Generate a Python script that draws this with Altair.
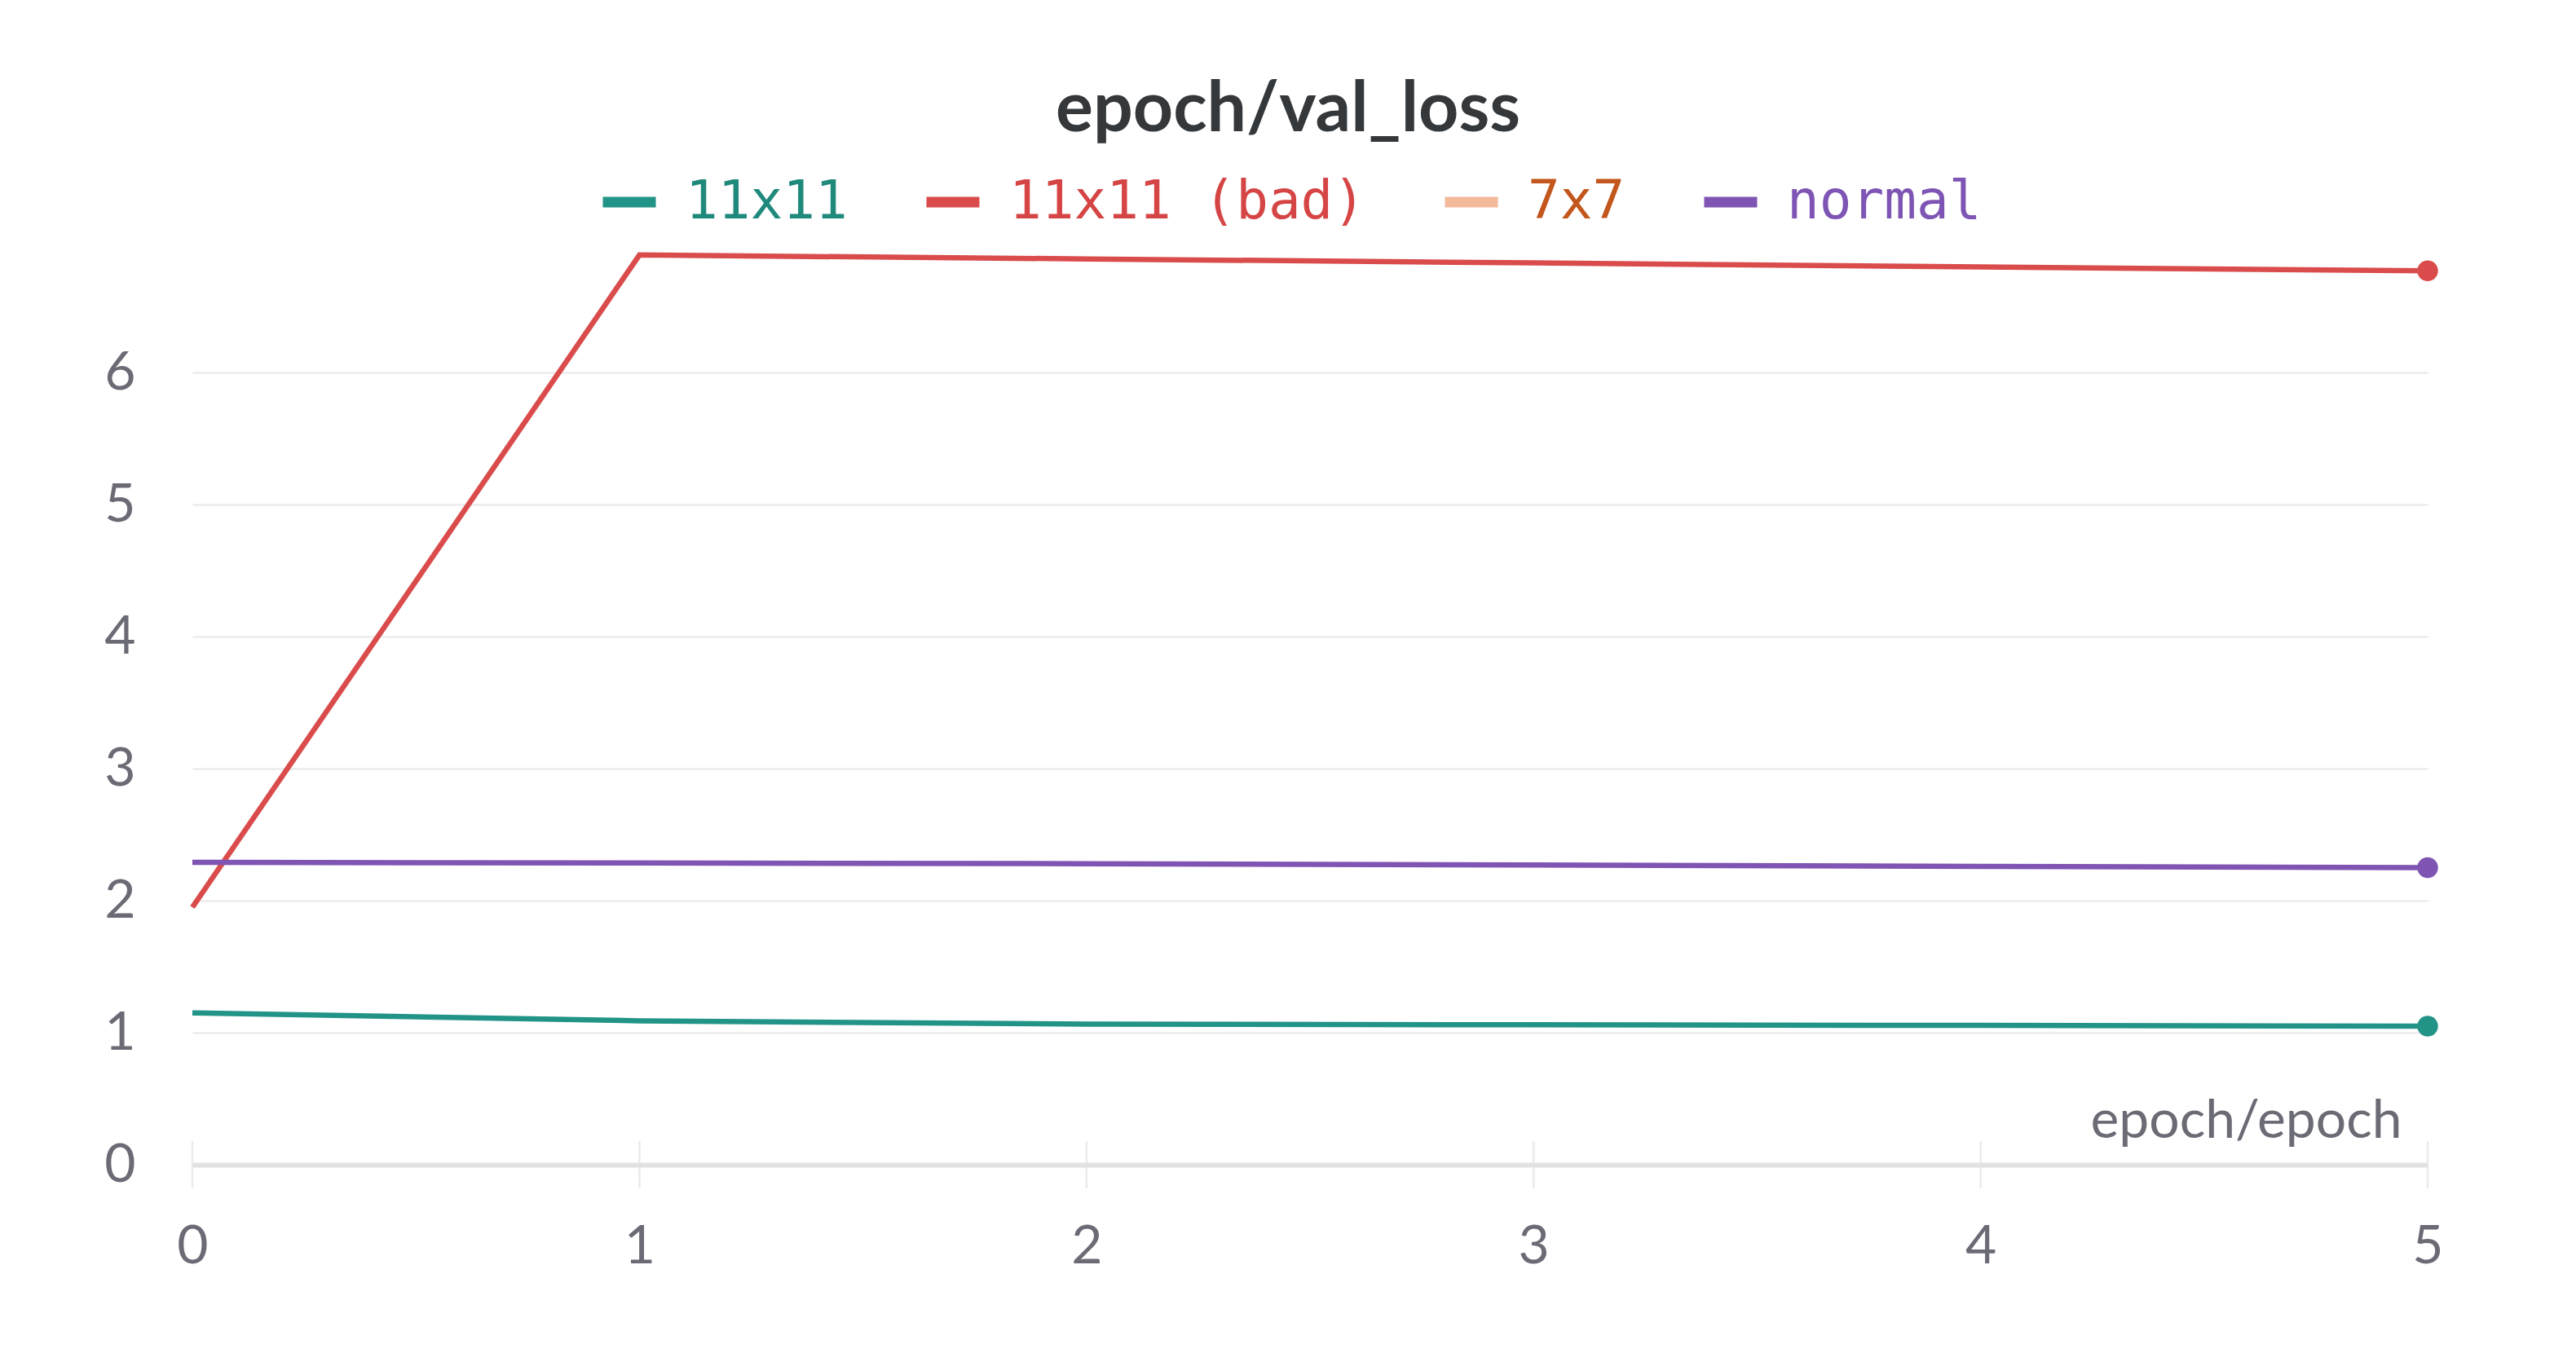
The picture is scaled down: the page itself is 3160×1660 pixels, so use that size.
import altair as alt
import pandas as pd

epochs = [0, 1, 2, 3, 4, 5]
runs = ["11x11", "11x11 (bad)", "7x7", "normal"]
loss_11x11 = [1.15, 1.09, 1.065, 1.06, 1.055, 1.05]
loss_11x11_bad = [1.95, 6.89, 6.86, 6.83, 6.80, 6.77]
loss_normal = [2.29, 2.285, 2.28, 2.27, 2.26, 2.25]
line_colors = ["#229487", "#da4c4c", "#f3b99b", "#7f54b3"]
label_colors = ["#1f8a7c", "#d64545", "#c2561c", "#7e54b4"]
y_ticks = [0, 1, 2, 3, 4, 5, 6]

rows = []
for name, vals in [("11x11", loss_11x11), ("11x11 (bad)", loss_11x11_bad), ("normal", loss_normal)]:
    for e, v in zip(epochs, vals):
        rows.append({"epoch": e, "loss": v, "run": name})
df = pd.DataFrame(rows)
ticks_df = pd.DataFrame({"epoch": epochs})

label_expr = " : ".join(
    f"datum.label == '{r}' ? '{c}'" for r, c in zip(runs[:-1], label_colors[:-1])
) + f" : '{label_colors[-1]}'"

FONT = "Lato"
GRAY = "#6b6b76"

x_enc = alt.X(
    "epoch:Q",
    scale=alt.Scale(domain=[0, 5], nice=False),
    axis=alt.Axis(
        values=epochs, format="d", labelFont=FONT, labelFontSize=66, labelColor=GRAY,
        labelPadding=68, labelFlush=False, labelOverlap=False, ticks=False, grid=False,
        domainColor="#e2e2e4", domainWidth=6,
        title="epoch/epoch", titleFont=FONT, titleFontSize=66, titleColor=GRAY,
        titleFontWeight="normal", titleX=2710, titleY=-34, titleAlign="right",
        titleBaseline="alphabetic",
    ),
)
y_enc = alt.Y(
    "loss:Q",
    scale=alt.Scale(domain=[0, 7], nice=False),
    axis=alt.Axis(
        values=y_ticks, format="d", labelFont=FONT, labelFontSize=66, labelColor=GRAY,
        labelPadding=70, ticks=False, domain=False, grid=True,
        gridColor="#e8e8e8", gridWidth=2, title=None,
    ),
)
color_scale = alt.Scale(domain=runs, range=line_colors)

tick_layer = alt.Chart(ticks_df).mark_tick(
    orient="vertical", size=58, thickness=2.5, color="#e2e2e4"
).encode(x=alt.X("epoch:Q", scale=alt.Scale(domain=[0, 5], nice=False)), y=alt.datum(0))

lines = alt.Chart(df).mark_line(strokeWidth=6.5).encode(
    x=x_enc,
    y=y_enc,
    color=alt.Color(
        "run:N", scale=color_scale,
        legend=alt.Legend(
            orient="none", legendX=497, legendY=-86, direction="horizontal", title=None,
            symbolType="stroke", symbolSize=4225, symbolStrokeWidth=13,
            labelFont="DejaVu Sans Mono", labelFontSize=66,
            labelColor={"expr": label_expr}, labelOffset=30, columnPadding=70,
            labelLimit=1000,
        ),
    ),
)

points = alt.Chart(df).transform_filter(alt.datum.epoch == 5).mark_point(
    filled=True, size=650, opacity=1
).encode(
    x="epoch:Q", y="loss:Q",
    color=alt.Color("run:N", scale=color_scale, legend=None),
)

chart = alt.layer(tick_layer, lines, points).properties(
    width=2742,
    height=1134,
    autosize=alt.AutoSizeParams(type="none"),
    padding={"left": 236, "top": 295, "right": 182, "bottom": 231},
    background="white",
    title=alt.TitleParams(
        "epoch/val_loss", font=FONT, fontSize=86, fontWeight="bold",
        color="#35383b", anchor="middle", dx=-27, offset=30,
    ),
).configure_view(stroke=None)

chart.save("out.html", embed_options={"renderer": "svg", "actions": False})
